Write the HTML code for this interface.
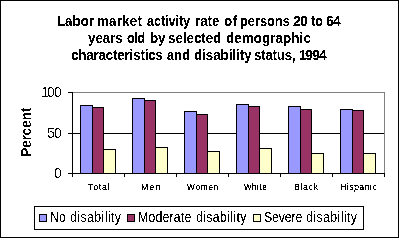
<!DOCTYPE html>
<html><head><meta charset="utf-8"><style>
html,body{margin:0;padding:0;background:#fff;}
body{width:399px;height:238px;position:relative;overflow:hidden;}
svg{position:absolute;left:0;top:0;}
.t{position:absolute;white-space:nowrap;font-family:"Liberation Sans",sans-serif;line-height:1;color:#000;}
</style></head><body>
<svg width="0" height="0" style="position:absolute"><filter id="fb" x="0" y="0" width="100%" height="100%"><feComponentTransfer><feFuncA type="linear" slope="1000" intercept="-450"/></feComponentTransfer></filter><filter id="fr" x="0" y="0" width="100%" height="100%"><feComponentTransfer><feFuncA type="linear" slope="1000" intercept="-600"/></feComponentTransfer></filter><filter id="fl" x="0" y="0" width="100%" height="100%"><feComponentTransfer><feFuncA type="linear" slope="1000" intercept="-450"/></feComponentTransfer></filter><filter id="fx" x="0" y="0" width="100%" height="100%"><feComponentTransfer><feFuncA type="linear" slope="1000" intercept="-400"/></feComponentTransfer></filter></svg>
<svg width="399" height="238" viewBox="0 0 399 238" shape-rendering="crispEdges">
<rect x="72" y="92" width="1" height="1" fill="#000"/>
<rect x="73" y="92" width="312" height="1" fill="#808080"/>
<rect x="384" y="92" width="1" height="81" fill="#808080"/>
<rect x="72" y="133" width="312" height="1" fill="#000"/>
<rect x="80" y="105" width="13" height="69" fill="#000"/>
<rect x="81" y="106" width="11" height="67" fill="#9999FF"/>
<rect x="92" y="107" width="12" height="67" fill="#000"/>
<rect x="93" y="108" width="10" height="65" fill="#993366"/>
<rect x="103" y="149" width="13" height="25" fill="#000"/>
<rect x="104" y="150" width="11" height="23" fill="#FFFFCC"/>
<rect x="132" y="98" width="13" height="76" fill="#000"/>
<rect x="133" y="99" width="11" height="74" fill="#9999FF"/>
<rect x="144" y="100" width="12" height="74" fill="#000"/>
<rect x="145" y="101" width="10" height="72" fill="#993366"/>
<rect x="155" y="147" width="13" height="27" fill="#000"/>
<rect x="156" y="148" width="11" height="25" fill="#FFFFCC"/>
<rect x="184" y="111" width="13" height="63" fill="#000"/>
<rect x="185" y="112" width="11" height="61" fill="#9999FF"/>
<rect x="196" y="114" width="12" height="60" fill="#000"/>
<rect x="197" y="115" width="10" height="58" fill="#993366"/>
<rect x="207" y="151" width="13" height="23" fill="#000"/>
<rect x="208" y="152" width="11" height="21" fill="#FFFFCC"/>
<rect x="236" y="104" width="13" height="70" fill="#000"/>
<rect x="237" y="105" width="11" height="68" fill="#9999FF"/>
<rect x="248" y="106" width="12" height="68" fill="#000"/>
<rect x="249" y="107" width="10" height="66" fill="#993366"/>
<rect x="259" y="148" width="13" height="26" fill="#000"/>
<rect x="260" y="149" width="11" height="24" fill="#FFFFCC"/>
<rect x="288" y="106" width="13" height="68" fill="#000"/>
<rect x="289" y="107" width="11" height="66" fill="#9999FF"/>
<rect x="300" y="109" width="12" height="65" fill="#000"/>
<rect x="301" y="110" width="10" height="63" fill="#993366"/>
<rect x="311" y="153" width="13" height="21" fill="#000"/>
<rect x="312" y="154" width="11" height="19" fill="#FFFFCC"/>
<rect x="340" y="109" width="13" height="65" fill="#000"/>
<rect x="341" y="110" width="11" height="63" fill="#9999FF"/>
<rect x="352" y="110" width="12" height="64" fill="#000"/>
<rect x="353" y="111" width="10" height="62" fill="#993366"/>
<rect x="363" y="153" width="13" height="21" fill="#000"/>
<rect x="364" y="154" width="11" height="19" fill="#FFFFCC"/>
<rect x="72" y="92" width="1" height="82" fill="#000"/>
<rect x="72" y="173" width="313" height="1" fill="#000"/>
<rect x="68" y="92" width="4" height="1" fill="#000"/>
<rect x="68" y="133" width="4" height="1" fill="#000"/>
<rect x="68" y="173" width="4" height="1" fill="#000"/>
<rect x="72" y="174" width="1" height="3" fill="#000"/>
<rect x="124" y="174" width="1" height="3" fill="#000"/>
<rect x="176" y="174" width="1" height="3" fill="#000"/>
<rect x="228" y="174" width="1" height="3" fill="#000"/>
<rect x="280" y="174" width="1" height="3" fill="#000"/>
<rect x="332" y="174" width="1" height="3" fill="#000"/>
<rect x="384" y="174" width="1" height="3" fill="#000"/>
<rect x="34" y="206" width="330" height="24" fill="#000"/>
<rect x="35" y="207" width="328" height="22" fill="#fff"/>
<rect x="39" y="214" width="8" height="8" fill="#000"/>
<rect x="40" y="215" width="6" height="6" fill="#9999FF"/>
<rect x="127" y="214" width="8" height="8" fill="#000"/>
<rect x="128" y="215" width="6" height="6" fill="#993366"/>
<rect x="253" y="214" width="8" height="8" fill="#000"/>
<rect x="254" y="215" width="6" height="6" fill="#FFFFCC"/>
<rect x="0.5" y="0.5" width="398" height="237" fill="none" stroke="#000" stroke-width="1"/>
</svg>
<div class="t" style="left:57.2px;top:13.8px;font-size:14px;font-weight:bold;letter-spacing:0.0px;filter:url(#fb);"><span style="display:inline-block;transform-origin:0 0;transform:scale(0.95,1)">Labor</span></div>
<div class="t" style="left:97.2px;top:13.8px;font-size:14px;font-weight:bold;letter-spacing:0.28px;filter:url(#fb);"><span style="display:inline-block;transform-origin:0 0;transform:scale(0.95,1)">market</span></div>
<div class="t" style="left:147.0px;top:13.8px;font-size:14px;font-weight:bold;letter-spacing:-0.1px;filter:url(#fb);"><span style="display:inline-block;transform-origin:0 0;transform:scale(0.908,1)">activity</span></div>
<div class="t" style="left:195.2px;top:13.8px;font-size:14px;font-weight:bold;letter-spacing:0.001px;filter:url(#fb);"><span style="display:inline-block;transform-origin:0 0;transform:scale(0.95,1)">rate</span></div>
<div class="t" style="left:224.2px;top:13.8px;font-size:14px;font-weight:bold;letter-spacing:0.7px;filter:url(#fb);"><span style="display:inline-block;transform-origin:0 0;transform:scale(0.95,1)">of</span></div>
<div class="t" style="left:240.2px;top:13.8px;font-size:14px;font-weight:bold;letter-spacing:0.0px;filter:url(#fb);"><span style="display:inline-block;transform-origin:0 0;transform:scale(0.914,1)">persons</span></div>
<div class="t" style="left:311.0px;top:13.8px;font-size:14px;font-weight:bold;letter-spacing:0.0px;filter:url(#fb);"><span style="display:inline-block;transform-origin:0 0;transform:scale(0.908,1)">to</span></div>
<div class="t" style="left:88.0px;top:30.8px;font-size:14px;font-weight:bold;letter-spacing:0.0px;filter:url(#fb);"><span style="display:inline-block;transform-origin:0 0;transform:scale(0.95,1)">years</span></div>
<div class="t" style="left:127.0px;top:30.8px;font-size:14px;font-weight:bold;letter-spacing:-0.35px;filter:url(#fb);"><span style="display:inline-block;transform-origin:0 0;transform:scale(0.895,1)">old</span></div>
<div class="t" style="left:150.2px;top:30.8px;font-size:14px;font-weight:bold;letter-spacing:0.0px;filter:url(#fb);"><span style="display:inline-block;transform-origin:0 0;transform:scale(0.95,1)">by</span></div>
<div class="t" style="left:168.2px;top:30.8px;font-size:14px;font-weight:bold;letter-spacing:0.0px;filter:url(#fb);"><span style="display:inline-block;transform-origin:0 0;transform:scale(0.95,1)">selected</span></div>
<div class="t" style="left:226.2px;top:30.8px;font-size:14px;font-weight:bold;letter-spacing:0.14px;filter:url(#fb);"><span style="display:inline-block;transform-origin:0 0;transform:scale(0.95,1)">demographic</span></div>
<div class="t" style="left:71.2px;top:47.8px;font-size:14px;font-weight:bold;letter-spacing:-0.15px;filter:url(#fb);"><span style="display:inline-block;transform-origin:0 0;transform:scale(0.95,1)">characteristics</span></div>
<div class="t" style="left:167.0px;top:47.8px;font-size:14px;font-weight:bold;letter-spacing:0.35px;filter:url(#fb);"><span style="display:inline-block;transform-origin:0 0;transform:scale(0.895,1)">and</span></div>
<div class="t" style="left:194.2px;top:47.8px;font-size:14px;font-weight:bold;letter-spacing:-0.001px;filter:url(#fb);"><span style="display:inline-block;transform-origin:0 0;transform:scale(0.95,1)">disability</span></div>
<div class="t" style="left:254.2px;top:47.8px;font-size:14px;font-weight:bold;letter-spacing:-0.232px;filter:url(#fb);"><span style="display:inline-block;transform-origin:0 0;transform:scale(0.95,1)">status,</span></div>
<div class="t" style="left:0;top:0;transform-origin:0 0;transform:translate(19.0px,157.0px) rotate(-90deg);font-size:14px;font-weight:bold;letter-spacing:-0.33px;filter:url(#fr);">Percent</div>
<div class="t" style="left:88.0px;top:181.8px;font-size:10px;letter-spacing:0.875px;filter:url(#fx);"><span style="display:inline-block;transform-origin:0 0;transform:scale(0.88,0.95)">Total</span></div>
<div class="t" style="left:141.2px;top:181.8px;font-size:10px;letter-spacing:1.4px;filter:url(#fx);"><span style="display:inline-block;transform-origin:0 0;transform:scale(0.88,0.95)">Men</span></div>
<div class="t" style="left:187.0px;top:181.8px;font-size:10px;letter-spacing:0.975px;filter:url(#fx);"><span style="display:inline-block;transform-origin:0 0;transform:scale(0.82,0.95)">Women</span></div>
<div class="t" style="left:244.0px;top:181.8px;font-size:10px;letter-spacing:0.675px;filter:url(#fx);"><span style="display:inline-block;transform-origin:0 0;transform:scale(0.8,0.95)">White</span></div>
<div class="t" style="left:294.2px;top:181.8px;font-size:10px;letter-spacing:0.7px;filter:url(#fx);"><span style="display:inline-block;transform-origin:0 0;transform:scale(0.88,0.95)">Black</span></div>
<div class="t" style="left:340.2px;top:181.8px;font-size:10px;letter-spacing:0.5px;filter:url(#fx);"><span style="display:inline-block;transform-origin:0 0;transform:scale(0.88,0.95)">Hispanic</span></div>
<div class="t" style="left:50.2px;top:210.0px;font-size:14px;letter-spacing:0.0px;filter:url(#fl);"><span style="display:inline-block;transform-origin:0 0;transform:scale(0.88,1)">No</span></div>
<div class="t" style="left:70.2px;top:210.0px;font-size:14px;letter-spacing:0.467px;filter:url(#fl);"><span style="display:inline-block;transform-origin:0 0;transform:scale(0.88,1)">disability</span></div>
<div class="t" style="left:138.2px;top:210.0px;font-size:14px;letter-spacing:0.2px;filter:url(#fl);"><span style="display:inline-block;transform-origin:0 0;transform:scale(0.88,1)">Moderate</span></div>
<div class="t" style="left:196.2px;top:210.0px;font-size:14px;letter-spacing:0.389px;filter:url(#fl);"><span style="display:inline-block;transform-origin:0 0;transform:scale(0.88,1)">disability</span></div>
<div class="t" style="left:264.2px;top:210.0px;font-size:14px;letter-spacing:-0.14px;filter:url(#fl);"><span style="display:inline-block;transform-origin:0 0;transform:scale(0.88,1)">Severe</span></div>
<div class="t" style="left:306.2px;top:210.0px;font-size:14px;letter-spacing:0.467px;filter:url(#fl);"><span style="display:inline-block;transform-origin:0 0;transform:scale(0.88,1)">disability</span></div>
<div class="t" style="left:293.0px;top:13.8px;font-size:14px;font-weight:bold;letter-spacing:0px;filter:url(#fb);">2</div>
<div class="t" style="left:300.0px;top:13.8px;font-size:14px;font-weight:bold;letter-spacing:0px;filter:url(#fb);">0</div>
<div class="t" style="left:326.0px;top:13.8px;font-size:14px;font-weight:bold;letter-spacing:0px;filter:url(#fb);">6</div>
<div class="t" style="left:333.0px;top:13.8px;font-size:14px;font-weight:bold;letter-spacing:0px;filter:url(#fb);">4</div>
<div class="t" style="left:299.0px;top:47.8px;font-size:14px;font-weight:bold;letter-spacing:0px;filter:url(#fb);">1</div>
<div class="t" style="left:305.0px;top:47.8px;font-size:14px;font-weight:bold;letter-spacing:0px;filter:url(#fb);">9</div>
<div class="t" style="left:312.0px;top:47.8px;font-size:14px;font-weight:bold;letter-spacing:0px;filter:url(#fb);">9</div>
<div class="t" style="left:319.0px;top:47.8px;font-size:14px;font-weight:bold;letter-spacing:0px;filter:url(#fb);">4</div>
<div class="t" style="left:41.0px;top:85.0px;font-size:14px;letter-spacing:0px;filter:url(#fr);">1</div>
<div class="t" style="left:47.0px;top:85.0px;font-size:14px;letter-spacing:0px;filter:url(#fr);">0</div>
<div class="t" style="left:54.0px;top:85.0px;font-size:14px;letter-spacing:0px;filter:url(#fr);">0</div>
<div class="t" style="left:47.0px;top:126.0px;font-size:14px;letter-spacing:0px;filter:url(#fr);">5</div>
<div class="t" style="left:54.0px;top:126.0px;font-size:14px;letter-spacing:0px;filter:url(#fr);">0</div>
<div class="t" style="left:54.0px;top:166.0px;font-size:14px;letter-spacing:0px;filter:url(#fr);">0</div>
</body></html>
